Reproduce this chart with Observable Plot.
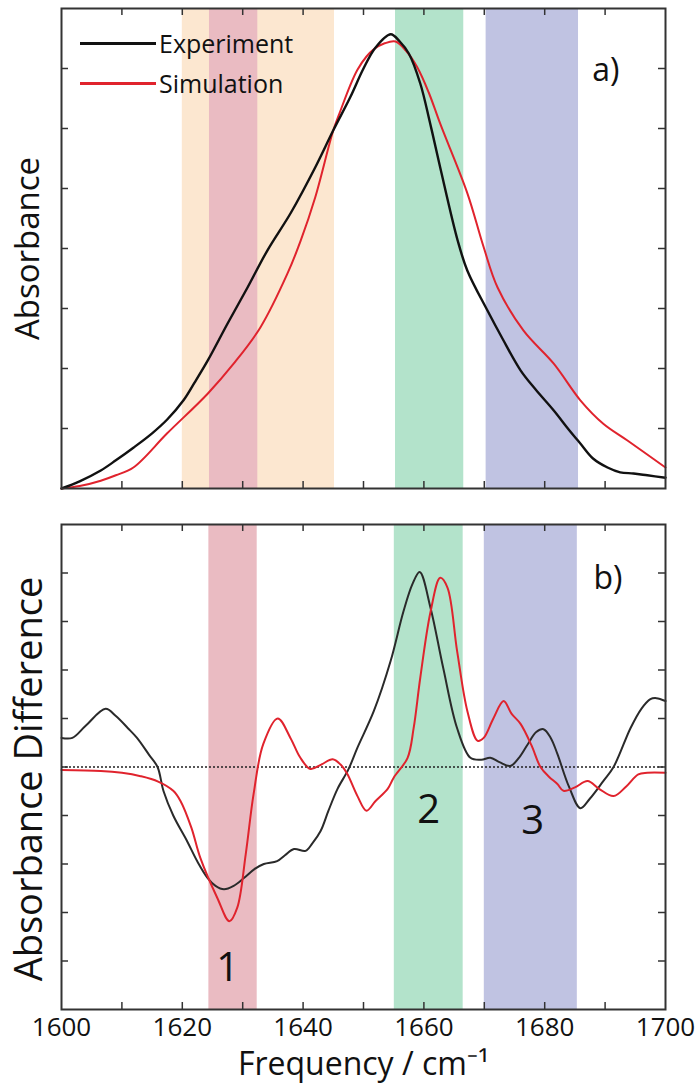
<!DOCTYPE html>
<html>
<head>
<meta charset="utf-8">
<script src="https://cdn.jsdelivr.net/npm/d3@7"></script>
<script src="https://cdn.jsdelivr.net/npm/@observablehq/plot@0.6"></script>
<style>
  html, body { margin: 0; padding: 0; background: #fff; }
  #wrap { position: relative; width: 696px; height: 1084px; font-family: "Open Sans", sans-serif; }
  #wrap svg { display: block; }
  #legend { position: absolute; left: 80px; top: 23px; font-size: 25px; color: #111; }
  #legend .row { display: flex; align-items: center; height: 40px; }
  #legend .sw { width: 76px; height: 3px; margin-right: 3px; }
</style>
</head>
<body>
<div id="wrap"><div id="legend"></div></div>
<script>
// ---------- data ----------
const xDomain = [1600, 1700];

// Panel a) absorbance (frequency offsets from 1600, absorbance units 0..8)
const expTopF = [0,3,6.5,9,11.9,15,17.5,20.2,22,24.2,27.5,30.8,34.1,38,42,45,47.8,50,52,54.5,56,57.5,59.4,61,62.7,65.6,67.2,70.5,73,76,78.5,81.5,84,85.9,88,90.4,92.5,94.7,97,100];
const expTopV = [0,0.12,0.30,0.47,0.68,0.92,1.15,1.47,1.76,2.13,2.75,3.35,3.97,4.6,5.35,5.97,6.52,7.0,7.35,7.57,7.45,7.25,6.75,6.1,5.35,4.13,3.63,2.97,2.5,1.97,1.65,1.3,0.98,0.75,0.5,0.35,0.27,0.25,0.22,0.18];

const simTopF = [0,3,6.5,9,11.9,17.5,24.2,28.5,32.9,37.4,39.6,42,45,46.2,47.8,49,50.5,51.7,53.5,55.3,57,58.9,60.8,62.7,67.2,69.9,72.2,76.5,81.5,85.9,89.7,93.7,100];
const simTopV = [0,0.04,0.13,0.22,0.35,0.92,1.58,2.08,2.68,3.58,4.13,4.85,5.97,6.3,6.72,6.98,7.2,7.32,7.42,7.45,7.3,7.02,6.6,6.08,4.92,4.02,3.35,2.63,2.08,1.47,1.08,0.8,0.35];

// Panel b) absorbance difference (units -5..5)
const expBotF = [0,1.8,4,7.3,9,11,12.5,14.5,15.9,16.9,18.5,20.8,22.5,24.2,25.5,26.9,28.5,30.2,32,33.5,35.7,37,38.5,40.4,41.5,42.9,44.2,45.7,47.5,49,51.7,54.5,56.6,58.1,59.3,61.1,63.2,65.5,67.7,69.5,71,72.5,74.3,75.8,77.2,78.6,79.8,81,82.1,84,85.9,87.5,89.7,91.4,94.2,96,97.5,98.5,100];
const expBotV = [0.6,0.6,0.85,1.2,1.05,0.8,0.6,0.25,0,-0.5,-1.0,-1.53,-1.95,-2.29,-2.45,-2.52,-2.45,-2.29,-2.1,-2.0,-1.94,-1.82,-1.69,-1.73,-1.58,-1.32,-0.9,-0.45,-0.05,0.4,1.15,2.19,3.2,3.77,4.02,3.28,2.04,0.8,0.19,0.15,0.19,0.1,0.02,0.2,0.47,0.72,0.78,0.6,0.27,-0.4,-0.85,-0.65,-0.29,0,0.8,1.2,1.4,1.42,1.36];

const simBotF = [0,6.5,10,13.1,16,18.5,19.7,21.5,23,25.8,27.8,29.1,30.5,31.8,33.4,35.8,37.9,39.5,41.2,43,44.9,46.2,47.3,49,50.5,52,54,55,57.3,58.3,59.4,61.1,62.7,63.9,65.5,67.2,68.9,69.9,71.5,73.2,74.5,76,77.8,79.3,80.7,82.1,83.1,85,87.1,89,91.4,93.5,95.5,97,100];
const simBotV = [-0.06,-0.08,-0.12,-0.19,-0.3,-0.49,-0.7,-1.25,-1.88,-2.7,-3.18,-2.9,-1.8,-0.56,0.47,1.0,0.6,0.2,-0.04,0.05,0.16,0.05,-0.14,-0.6,-0.9,-0.7,-0.45,-0.22,0.19,0.8,1.84,3.2,3.9,3.7,2.39,1.15,0.54,0.6,1.0,1.36,1.1,0.89,0.45,0,-0.2,-0.35,-0.49,-0.42,-0.29,-0.45,-0.6,-0.4,-0.15,-0.12,-0.12];

// highlighted bands
const bandStartTop = [1620, 1624.5, 1655.3, 1670.3];
const bandEndTop   = [1645.2, 1632.5, 1666.6, 1685.6];
const bandColorTop = ["#fce7d0", "#eabbc2", "#b3e3cb", "#c0c3e2"];
const bandStartBot = [1624.4, 1655.1, 1670];
const bandEndBot   = [1632.4, 1666.5, 1685.4];
const bandColorBot = ["#eabbc2", "#b3e3cb", "#c0c3e2"];

// band number labels
const bandLabelText = ["1", "2", "3"];
const bandLabelX = [1627.5, 1660.8, 1678.0];
const bandLabelY = [-4.14, -0.89, -1.11];

const minorXTicks = [1610,1620,1630,1640,1650,1660,1670,1680,1690];
const xTickLabels = [1600,1620,1640,1660,1680,1700];
const topYTicks = [1,2,3,4,5,6,7];
const botYTicks = [-4,-3,-2,-1,0,1,2,3,4];

const seriesNames = ["Experiment", "Simulation"];
const seriesColors = ["#111111", "#e0232d"];

// ---------- build tables ----------
const mk = (F, V) => F.map((f, i) => ({f: 1600 + f, v: V[i]}));
const expTop = mk(expTopF, expTopV), simTop = mk(simTopF, simTopV);
const expBot = mk(expBotF, expBotV), simBot = mk(simBotF, simBotV);
const bandsTop = bandStartTop.map((s, i) => ({s, e: bandEndTop[i], c: bandColorTop[i]}));
const bandsBot = bandStartBot.map((s, i) => ({s, e: bandEndBot[i], c: bandColorBot[i]}));
const bandLabels = bandLabelText.map((t, i) => ({t, x: bandLabelX[i], y: bandLabelY[i]}));

const W = 696, ML = 61, MR = 31;
const frameCol = "#333";
const tl = 7;

function boxTicks(plotH, plotW, yTicks) {
  return [
    Plot.tickX(minorXTicks, {x: d => d, insetTop: plotH - tl, stroke: frameCol, strokeWidth: 1.5}),
    Plot.tickX(minorXTicks, {x: d => d, insetBottom: plotH - tl, stroke: frameCol, strokeWidth: 1.5}),
    Plot.tickY(yTicks, {y: d => d, insetRight: plotW - tl, stroke: frameCol, strokeWidth: 1.5}),
    Plot.tickY(yTicks, {y: d => d, insetLeft: plotW - tl, stroke: frameCol, strokeWidth: 1.5})
  ];
}

const plotW = W - ML - MR;
const topH = 500, topMT = 8, topMB = 12;
const topPlot = Plot.plot({
  width: W, height: topH, marginTop: topMT, marginBottom: topMB, marginLeft: ML, marginRight: MR,
  style: {fontFamily: "Open Sans, sans-serif", background: "transparent", overflow: "visible"},
  x: {domain: xDomain, axis: null},
  y: {domain: [0, 8], axis: null},
  marks: [
    Plot.rect(bandsTop, {x1: "s", x2: "e", fill: "c"}),
    Plot.line(simTop, {x: "f", y: "v", stroke: seriesColors[1], strokeWidth: 2, curve: "catmull-rom"}),
    Plot.line(expTop, {x: "f", y: "v", stroke: seriesColors[0], strokeWidth: 2.4, curve: "catmull-rom"}),
    ...boxTicks(topH - topMT - topMB, plotW, topYTicks),
    Plot.frame({stroke: frameCol, strokeWidth: 2}),
    Plot.text(["a)"], {text: d => d, frameAnchor: "top-right", textAnchor: "end", lineAnchor: "bottom", dx: -46, dy: 72, fontSize: 32, fill: "#111"}),
    Plot.text(["Absorbance"], {text: d => d, frameAnchor: "left", textAnchor: "middle", lineAnchor: "middle", rotate: -90, dx: -33, fontSize: 33, fill: "#111"})
  ]
});

const botH = 584, botMT = 24, botMB = 75;
const botPlot = Plot.plot({
  width: W, height: botH, marginTop: botMT, marginBottom: botMB, marginLeft: ML, marginRight: MR,
  style: {fontFamily: "Open Sans, sans-serif", background: "transparent", overflow: "visible"},
  x: {domain: xDomain, axis: null},
  y: {domain: [-5, 5], axis: null},
  marks: [
    Plot.rect(bandsBot, {x1: "s", x2: "e", fill: "c"}),
    Plot.ruleY([0], {stroke: "#222", strokeWidth: 1.5, strokeDasharray: "2,2"}),
    Plot.line(expBot, {x: "f", y: "v", stroke: "#2a2a2a", strokeWidth: 2, curve: "catmull-rom"}),
    Plot.line(simBot, {x: "f", y: "v", stroke: seriesColors[1], strokeWidth: 2, curve: "catmull-rom"}),
    ...boxTicks(botH - botMT - botMB, plotW, botYTicks),
    Plot.frame({stroke: frameCol, strokeWidth: 2}),
    Plot.text(bandLabels, {x: "x", y: "y", text: "t", fontSize: 40, fill: "#111"}),
    Plot.text(["b)"], {text: d => d, frameAnchor: "top-right", textAnchor: "end", lineAnchor: "bottom", dx: -43, dy: 64, fontSize: 32, fill: "#111"}),
    Plot.text(xTickLabels, {x: d => d, text: d => String(d), frameAnchor: "bottom", textAnchor: "middle", lineAnchor: "bottom", dy: 26, fontSize: 26, fill: "#111"}),
    Plot.text(["Frequency / cm\u207B\u00B9"], {text: d => d, frameAnchor: "bottom", textAnchor: "middle", lineAnchor: "bottom", dy: 65, fontSize: 32, fill: "#111"}),
    Plot.text(["Absorbance Difference"], {text: d => d, frameAnchor: "left", textAnchor: "middle", lineAnchor: "middle", rotate: -90, dx: -32, dy: 12, fontSize: 38, fill: "#111"})
  ]
});

const wrap = document.getElementById("wrap");
wrap.appendChild(topPlot);
wrap.appendChild(botPlot);

const legend = document.getElementById("legend");
seriesNames.forEach((n, i) => {
  const row = document.createElement("div");
  row.className = "row";
  const sw = document.createElement("div");
  sw.className = "sw";
  sw.style.background = seriesColors[i];
  const t = document.createElement("span");
  t.textContent = n;
  row.appendChild(sw); row.appendChild(t);
  legend.appendChild(row);
});
</script>
</body>
</html>
